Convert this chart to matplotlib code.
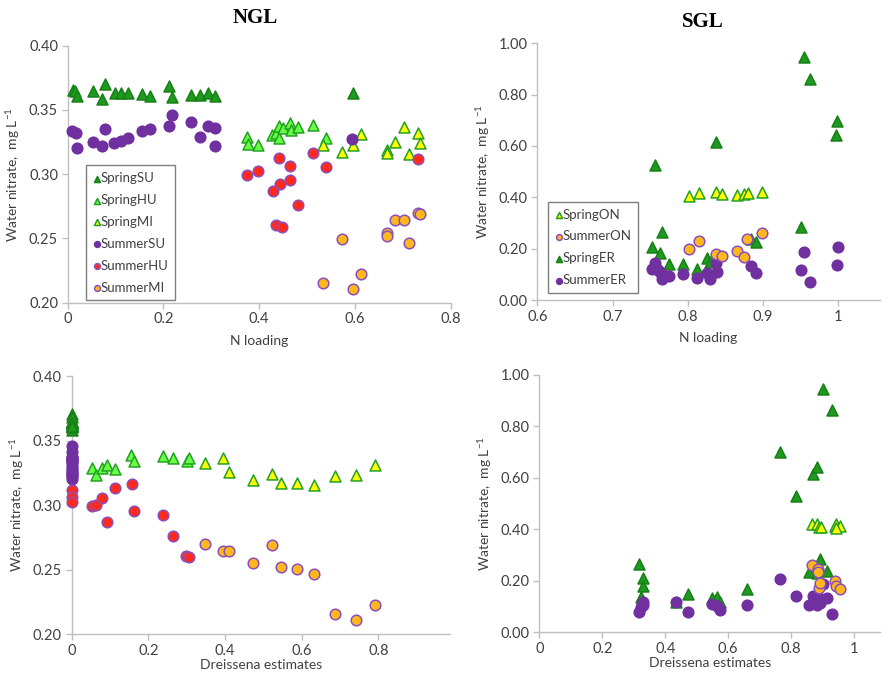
import matplotlib
matplotlib.use("Agg")
import matplotlib.pyplot as plt
from matplotlib.ticker import FixedLocator, FuncFormatter

plt.rcParams['font.family'] = ['Lato', 'DejaVu Sans']
plt.rcParams['mathtext.fontset'] = 'custom'
plt.rcParams['mathtext.rm'] = 'Lato'
plt.rcParams['mathtext.it'] = 'Lato:italic'

# ---------------- NGL vs N loading ----------------
ngl_n_spring_su_x = [0.010, 0.015, 0.020, 0.052, 0.077, 0.072, 0.099, 0.112, 0.126, 0.155, 0.171, 0.211, 0.218, 0.258, 0.277, 0.292, 0.308, 0.595]
ngl_n_spring_su_y = [0.3655, 0.3647, 0.3611, 0.3647, 0.3702, 0.3585, 0.3634, 0.3634, 0.3634, 0.3621, 0.3611, 0.3686, 0.3603, 0.3613, 0.3613, 0.3634, 0.3611, 0.3629]
ngl_n_spring_hu_x = [0.375, 0.376, 0.398, 0.426, 0.435, 0.442, 0.441, 0.449, 0.465, 0.467, 0.480, 0.512, 0.540]
ngl_n_spring_hu_y = [0.3292, 0.3232, 0.3227, 0.3302, 0.3320, 0.3375, 0.3279, 0.3362, 0.3396, 0.3344, 0.3364, 0.3383, 0.3284]
ngl_n_spring_mi_x = [0.533, 0.574, 0.595, 0.612, 0.668, 0.668, 0.684, 0.703, 0.712, 0.732, 0.735]
ngl_n_spring_mi_y = [0.3227, 0.3170, 0.3230, 0.3310, 0.3188, 0.3167, 0.3253, 0.3370, 0.3157, 0.3323, 0.3240]
ngl_n_summer_su_x = [0.008, 0.017, 0.019, 0.053, 0.072, 0.077, 0.097, 0.112, 0.126, 0.155, 0.171, 0.211, 0.218, 0.258, 0.277, 0.292, 0.308, 0.308, 0.593]
ngl_n_summer_su_y = [0.3336, 0.3318, 0.3204, 0.3250, 0.3222, 0.3354, 0.3245, 0.3261, 0.3281, 0.3339, 0.3354, 0.3375, 0.3458, 0.3409, 0.3292, 0.3375, 0.3357, 0.3222, 0.3271]
ngl_n_summer_hu_x = [0.375, 0.398, 0.428, 0.441, 0.443, 0.435, 0.448, 0.465, 0.465, 0.480, 0.512, 0.540, 0.732]
ngl_n_summer_hu_y = [0.2994, 0.3025, 0.2872, 0.3128, 0.2923, 0.2602, 0.2591, 0.3066, 0.2955, 0.2760, 0.3165, 0.3053, 0.3115]
ngl_n_summer_mi_x = [0.533, 0.574, 0.595, 0.612, 0.668, 0.668, 0.684, 0.703, 0.712, 0.732, 0.735]
ngl_n_summer_mi_y = [0.2150, 0.2498, 0.2106, 0.2220, 0.2545, 0.2519, 0.2643, 0.2643, 0.2462, 0.2695, 0.2687]

# ---------------- SGL vs N loading ----------------
sgl_n_spring_er_x = [0.756, 0.753, 0.766, 0.763, 0.775, 0.794, 0.812, 0.825, 0.830, 0.838, 0.884, 0.890, 0.950, 0.955, 0.963, 0.998, 0.997]
sgl_n_spring_er_y = [0.527, 0.208, 0.264, 0.182, 0.139, 0.139, 0.119, 0.165, 0.148, 0.616, 0.236, 0.227, 0.286, 0.945, 0.862, 0.699, 0.643]
sgl_n_spring_on_x = [0.801, 0.815, 0.838, 0.846, 0.865, 0.874, 0.880, 0.899]
sgl_n_spring_on_y = [0.405, 0.418, 0.419, 0.413, 0.410, 0.412, 0.418, 0.421]
sgl_n_summer_on_x = [0.801, 0.815, 0.838, 0.846, 0.866, 0.874, 0.879, 0.899]
sgl_n_summer_on_y = [0.197, 0.230, 0.179, 0.173, 0.190, 0.166, 0.239, 0.260]
sgl_n_summer_er_x = [0.753, 0.756, 0.759, 0.762, 0.764, 0.766, 0.775, 0.794, 0.812, 0.825, 0.830, 0.838, 0.839, 0.884, 0.890, 0.950, 0.955, 0.963, 0.998, 0.999]
sgl_n_summer_er_y = [0.119, 0.143, 0.119, 0.114, 0.104, 0.081, 0.094, 0.101, 0.086, 0.104, 0.081, 0.143, 0.110, 0.134, 0.105, 0.118, 0.187, 0.071, 0.135, 0.205]

# ---------------- NGL vs Dreissena ----------------
ngl_d_spring_su_x = [0.0] * 17
ngl_d_spring_su_y = [0.3655, 0.3647, 0.3611, 0.3647, 0.3702, 0.3585, 0.3634, 0.3634, 0.3634, 0.3621, 0.3611, 0.3686, 0.3603, 0.3613, 0.3613, 0.3634, 0.3611]
ngl_d_spring_hu_x = [0.054, 0.063, 0.078, 0.091, 0.114, 0.156, 0.163, 0.238, 0.264, 0.300, 0.306]
ngl_d_spring_hu_y = [0.3289, 0.3233, 0.3284, 0.3308, 0.3282, 0.3388, 0.3341, 0.3380, 0.3362, 0.3339, 0.3362]
ngl_d_spring_mi_x = [0.349, 0.396, 0.410, 0.473, 0.522, 0.546, 0.587, 0.631, 0.686, 0.743, 0.792]
ngl_d_spring_mi_y = [0.3323, 0.3367, 0.3253, 0.3196, 0.3240, 0.3171, 0.3171, 0.3155, 0.3227, 0.3230, 0.3310]
ngl_d_summer_su_x = [0.0] * 18
ngl_d_summer_su_y = [0.3336, 0.3318, 0.3204, 0.3250, 0.3222, 0.3354, 0.3245, 0.3261, 0.3281, 0.3339, 0.3354, 0.3375, 0.3458, 0.3409, 0.3292, 0.3375, 0.3357, 0.3222]
ngl_d_summer_hu_x = [0.0, 0.0, 0.0, 0.054, 0.063, 0.079, 0.091, 0.114, 0.157, 0.163, 0.238, 0.264, 0.299, 0.306]
ngl_d_summer_hu_y = [0.3116, 0.3065, 0.3021, 0.2992, 0.2997, 0.3052, 0.2871, 0.3129, 0.3163, 0.2953, 0.2922, 0.2762, 0.2605, 0.2594]
ngl_d_summer_mi_x = [0.349, 0.396, 0.410, 0.473, 0.522, 0.546, 0.587, 0.631, 0.686, 0.743, 0.792]
ngl_d_summer_mi_y = [0.2698, 0.2643, 0.2643, 0.2548, 0.2690, 0.2519, 0.2501, 0.2465, 0.2155, 0.2109, 0.2222]

# ---------------- SGL vs Dreissena ----------------
sgl_d_spring_er_x = [0.317, 0.328, 0.330, 0.323, 0.473, 0.434, 0.549, 0.565, 0.575, 0.661, 0.765, 0.816, 0.870, 0.883, 0.901, 0.928, 0.856, 0.883, 0.891, 0.913]
sgl_d_spring_er_y = [0.264, 0.210, 0.181, 0.139, 0.149, 0.117, 0.132, 0.139, 0.118, 0.167, 0.699, 0.528, 0.615, 0.644, 0.944, 0.864, 0.236, 0.229, 0.285, 0.238]
sgl_d_spring_on_x = [0.865, 0.883, 0.888, 0.896, 0.939, 0.941, 0.956, 0.942]
sgl_d_spring_on_y = [0.420, 0.421, 0.411, 0.408, 0.413, 0.421, 0.413, 0.404]
sgl_d_summer_on_x = [0.865, 0.885, 0.885, 0.888, 0.891, 0.939, 0.941, 0.956]
sgl_d_summer_on_y = [0.262, 0.245, 0.236, 0.172, 0.190, 0.201, 0.180, 0.167]
sgl_d_summer_er_x = [0.317, 0.323, 0.328, 0.330, 0.434, 0.473, 0.549, 0.565, 0.575, 0.661, 0.765, 0.816, 0.856, 0.870, 0.883, 0.886, 0.891, 0.900, 0.913, 0.928]
sgl_d_summer_er_y = [0.080, 0.097, 0.119, 0.106, 0.119, 0.080, 0.110, 0.102, 0.087, 0.106, 0.206, 0.142, 0.106, 0.141, 0.105, 0.139, 0.115, 0.187, 0.133, 0.071]

# styles: (marker, face, edge)
dark_green = '#1f9a1f'
green_edge = '#23a023'
purple = '#7030a0'
styles = {
    'SpringSU': ('^', dark_green, '#178017'),
    'SpringHU': ('^', '#66ff44', green_edge),
    'SpringMI': ('^', '#ffff00', green_edge),
    'SummerSU': ('o', purple, purple),
    'SummerHU': ('o', '#ff2a1a', '#8a4fbf'),
    'SummerMI': ('o', '#ffb81c', '#8a4fbf'),
    'SpringON': ('^', '#ffff00', green_edge),
    'SummerON': ('o', '#ffb81c', '#8a4fbf'),
    'SpringER': ('^', dark_green, '#178017'),
    'SummerER': ('o', purple, purple),
}

grey_spine = '#bfbfbf'
tick_col = '#404040'

fig = plt.figure(figsize=(8.83, 6.73), dpi=100)

ax1 = fig.add_axes([0.0767, 0.5502, 0.4337, 0.3819])
ax2 = fig.add_axes([0.6085, 0.5542, 0.3878, 0.3815])
ax3 = fig.add_axes([0.0812, 0.0579, 0.4284, 0.3834])
ax4 = fig.add_axes([0.6108, 0.0605, 0.3858, 0.3823])


def draw(ax, name, xs, ys):
    m, fc, ec = styles[name]
    return ax.scatter(xs, ys, marker=m, s=62 if m == '^' else 58, facecolor=fc,
                      edgecolor=ec, linewidths=1.1, label=name, zorder=3)


def general_fmt(v, pos):
    s = ('%.1f' % v)
    if s.endswith('.0'):
        s = s[:-2]
    return s


def style_axes(ax, xlim, xticks, ylim, yticks, xlabel, xpad=6):
    ax.set_xlim(*xlim)
    ax.set_ylim(*ylim)
    ax.xaxis.set_major_locator(FixedLocator(xticks))
    ax.yaxis.set_major_locator(FixedLocator(yticks))
    ax.xaxis.set_major_formatter(FuncFormatter(general_fmt))
    ax.yaxis.set_major_formatter(FuncFormatter(lambda v, p: '%.2f' % v))
    for s in ['top', 'right']:
        ax.spines[s].set_visible(False)
    for s in ['left', 'bottom']:
        ax.spines[s].set_color(grey_spine)
        ax.spines[s].set_linewidth(1.0)
    ax.tick_params(axis='both', colors=grey_spine, labelcolor=tick_col,
                   labelsize=10.5, length=4, width=1, pad=3)
    ax.set_xlabel(xlabel, fontsize=10, color=tick_col, labelpad=xpad)
    ax.set_ylabel('Water nitrate,  mg L$^{-1}$', fontsize=10, color=tick_col, labelpad=5)


# panel 1
h = []
h.append(draw(ax1, 'SpringSU', ngl_n_spring_su_x, ngl_n_spring_su_y))
h.append(draw(ax1, 'SpringHU', ngl_n_spring_hu_x, ngl_n_spring_hu_y))
h.append(draw(ax1, 'SpringMI', ngl_n_spring_mi_x, ngl_n_spring_mi_y))
h.append(draw(ax1, 'SummerSU', ngl_n_summer_su_x, ngl_n_summer_su_y))
h.append(draw(ax1, 'SummerHU', ngl_n_summer_hu_x, ngl_n_summer_hu_y))
h.append(draw(ax1, 'SummerMI', ngl_n_summer_mi_x, ngl_n_summer_mi_y))
style_axes(ax1, (0, 0.8), [0, 0.2, 0.4, 0.6, 0.8], (0.2, 0.4),
           [0.20, 0.25, 0.30, 0.35, 0.40], 'N loading')

# panel 2
draw(ax2, 'SpringER', sgl_n_spring_er_x, sgl_n_spring_er_y)
draw(ax2, 'SpringON', sgl_n_spring_on_x, sgl_n_spring_on_y)
draw(ax2, 'SummerER', sgl_n_summer_er_x, sgl_n_summer_er_y)
draw(ax2, 'SummerON', sgl_n_summer_on_x, sgl_n_summer_on_y)
style_axes(ax2, (0.6, 1.055), [0.6, 0.7, 0.8, 0.9, 1.0], (0, 1.0),
           [0, 0.2, 0.4, 0.6, 0.8, 1.0], 'N loading')
handles2 = {c.get_label(): c for c in ax2.collections}
h2 = [handles2[n] for n in ['SpringON', 'SummerON', 'SpringER', 'SummerER']]

# panel 3
draw(ax3, 'SpringSU', ngl_d_spring_su_x, ngl_d_spring_su_y)
draw(ax3, 'SpringHU', ngl_d_spring_hu_x, ngl_d_spring_hu_y)
draw(ax3, 'SpringMI', ngl_d_spring_mi_x, ngl_d_spring_mi_y)
draw(ax3, 'SummerSU', ngl_d_summer_su_x, ngl_d_summer_su_y)
draw(ax3, 'SummerHU', ngl_d_summer_hu_x, ngl_d_summer_hu_y)
draw(ax3, 'SummerMI', ngl_d_summer_mi_x, ngl_d_summer_mi_y)
style_axes(ax3, (0, 0.987), [0, 0.2, 0.4, 0.6, 0.8], (0.2, 0.4),
           [0.20, 0.25, 0.30, 0.35, 0.40], 'Dreissena estimates', xpad=1)

# panel 4
draw(ax4, 'SpringER', sgl_d_spring_er_x, sgl_d_spring_er_y)
draw(ax4, 'SpringON', sgl_d_spring_on_x, sgl_d_spring_on_y)
draw(ax4, 'SummerER', sgl_d_summer_er_x, sgl_d_summer_er_y)
draw(ax4, 'SummerON', sgl_d_summer_on_x, sgl_d_summer_on_y)
style_axes(ax4, (0, 1.082), [0, 0.2, 0.4, 0.6, 0.8, 1.0], (0, 1.0),
           [0, 0.2, 0.4, 0.6, 0.8, 1.0], 'Dreissena estimates', xpad=1)

for ax in (ax1, ax2, ax3, ax4):
    for c in ax.collections:
        c.set_clip_on(False)

leg_kw = dict(fontsize=9.5, markerscale=0.55, handletextpad=0.0, handlelength=0.6,
              labelspacing=0.75, borderpad=0.5, borderaxespad=0.0, frameon=True,
              fancybox=False, edgecolor='#7f7f7f', framealpha=1, labelcolor=tick_col,
              loc='lower left')
leg1 = ax1.legend(handles=h, bbox_to_anchor=(0.048, 0.01), **leg_kw)
leg1.get_frame().set_linewidth(1.0)
leg2 = ax2.legend(handles=h2, bbox_to_anchor=(0.032, 0.028), **leg_kw)
leg2.get_frame().set_linewidth(1.0)

fig.text(0.289, 0.973, 'NGL', family='Liberation Serif', weight='bold', fontsize=15,
         ha='center', va='center')
fig.text(0.796, 0.968, 'SGL', family='Liberation Serif', weight='bold', fontsize=15,
         ha='center', va='center')

fig.savefig('out.png', dpi=100)
